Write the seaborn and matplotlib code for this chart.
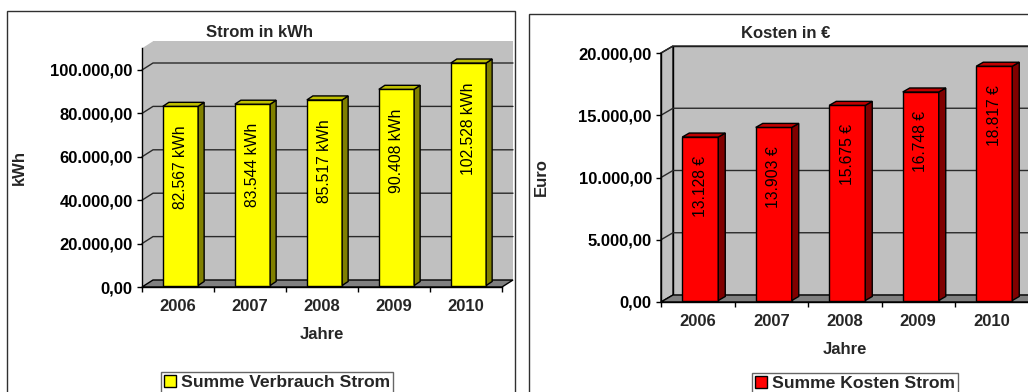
import matplotlib
matplotlib.use("Agg")
import matplotlib.pyplot as plt
import matplotlib.ticker as mticker
from matplotlib.patches import Polygon, Rectangle, Patch
from matplotlib.lines import Line2D
from matplotlib.transforms import Affine2D, IdentityTransform
import pandas as pd
import seaborn as sns

# --- data -------------------------------------------------------------
years = ["2006", "2007", "2008", "2009", "2010"]
strom_kwh = [82567, 83544, 85517, 90408, 102528]
kosten_eur = [13128, 13903, 15675, 16748, 18817]

W, H, DPI = 1028, 392, 100

sns.set_style("white")
plt.rcParams["font.family"] = ["Liberation Sans", "DejaVu Sans"]

fig = plt.figure(figsize=(W / DPI, H / DPI), dpi=DPI)
fig.patch.set_facecolor("white")

FS = 12
LEG_FS = 12.6


def de_num(v, decimals=2):
    s = f"{v:,.{decimals}f}"
    return s.replace(",", "X").replace(".", ",").replace("X", ".")


def px_axes(x0, x1, y_top, y_bottom):
    return fig.add_axes([x0 / W, 1 - y_bottom / H, (x1 - x0) / W, (y_bottom - y_top) / H])


def panel(ax, values, ymax, ystep, face, side, top, unit, ylabel, title,
          legend_label, wall_off, bar_off, wall_edge, title_pos, ylabel_pos,
          legend_pos):
    df = pd.DataFrame({"Jahr": years, "Wert": values})
    sns.barplot(data=df, x="Jahr", y="Wert", color=face, saturation=1,
                width=0.49, edgecolor="black", linewidth=1, errorbar=None,
                ax=ax, zorder=3)
    bars = list(ax.patches)
    n = len(years)
    x0, x1 = -0.5, n - 0.5
    ax.set_xlim(x0, x1)
    ax.set_ylim(0, ymax)
    ax.set_facecolor("none")

    wdx, wdy = wall_off
    bdx, bdy = bar_off
    sx, sy = (wdx - bdx) / 2, (wdy - bdy) / 2

    def pt(x, y, dx=0.0, dy=0.0):
        X, Y = ax.transData.transform((x, y))
        return (X + dx, Y + dy)

    def poly(pts, **kw):
        p = Polygon(pts, closed=True, transform=IdentityTransform(),
                    clip_on=False, **kw)
        ax.add_artist(p)
        return p

    # back wall and side wall
    poly([pt(x0, 0, wdx, wdy), pt(x1, 0, wdx, wdy), pt(x1, ymax, wdx, wdy),
          pt(x0, ymax, wdx, wdy)], facecolor="#C0C0C0",
         edgecolor=wall_edge, lw=1, zorder=0)
    poly([pt(x0, 0), pt(x0, ymax), pt(x0, ymax, wdx, wdy), pt(x0, 0, wdx, wdy)],
         facecolor="#C0C0C0", edgecolor=wall_edge, lw=1, zorder=0.1)

    # gridlines on walls
    ticks = list(range(0, int(ymax) + 1, ystep))
    for v in ticks[1:]:
        a, b, c = pt(x0, v), pt(x0, v, wdx, wdy), pt(x1, v, wdx, wdy)
        ln = Line2D([a[0], b[0], c[0]], [a[1], b[1], c[1]], color="#2a2a2a",
                    lw=1, transform=IdentityTransform(), clip_on=False,
                    zorder=0.5)
        ax.add_artist(ln)

    # floor
    poly([pt(x0, 0), pt(x1, 0), pt(x1, 0, wdx, wdy), pt(x0, 0, wdx, wdy)],
         facecolor="#808080", edgecolor="black", lw=1, zorder=0.7)

    # bars with side and top faces, plus value labels
    for bar, v in zip(bars, values):
        bar.set_transform(ax.transData + Affine2D().translate(sx, sy))
        bar.set_clip_on(False)
        xa = bar.get_x()
        xb = xa + bar.get_width()
        h = bar.get_height()
        poly([pt(xb, 0, sx, sy), pt(xb, h, sx, sy),
              pt(xb, h, sx + bdx, sy + bdy), pt(xb, 0, sx + bdx, sy + bdy)],
             facecolor=side, edgecolor="black", lw=1, zorder=3.1)
        poly([pt(xa, h, sx, sy), pt(xb, h, sx, sy),
              pt(xb, h, sx + bdx, sy + bdy), pt(xa, h, sx + bdx, sy + bdy)],
             facecolor=top, edgecolor="black", lw=1, zorder=3.1)
        ax.annotate(f"{de_num(v, 0)} {unit}", xy=((xa + xb) / 2, h),
                    xytext=(sx, sy - 19), textcoords="offset pixels",
                    rotation=90, ha="center", va="top", fontsize=11.3,
                    color="black", zorder=4)

    # axes lines and ticks
    for s in ("top", "right"):
        ax.spines[s].set_visible(False)
    for s in ("left", "bottom"):
        ax.spines[s].set_color("black")
        ax.spines[s].set_linewidth(1)
        ax.spines[s].set_zorder(2)

    ax.set_yticks(ticks)
    ax.yaxis.set_major_formatter(mticker.FuncFormatter(lambda v, p: de_num(v)))
    ax.tick_params(axis="y", direction="out", length=3.6, width=1, pad=3,
                   labelsize=FS, colors="black", left=True)
    for t in ax.get_yticklabels():
        t.set_fontweight("bold")

    ax.set_xticks(range(n))
    ax.set_xticklabels(years, fontweight="bold", fontsize=FS)
    ax.set_xticks([i - 0.5 for i in range(n + 1)], minor=True)
    ax.tick_params(axis="x", which="major", length=0, pad=8.5)
    ax.tick_params(axis="x", which="minor", direction="out", length=3.6,
                   width=1, bottom=True, color="black")

    ax.set_xlabel("Jahre", fontweight="bold", fontsize=FS, labelpad=9.5)
    ax.set_ylabel(ylabel, fontweight="bold", fontsize=FS)
    ax.yaxis.set_label_coords(*ylabel_pos)

    ax.text(title_pos[0], title_pos[1], title, transform=ax.transAxes,
            ha="center", va="center", fontweight="bold", fontsize=FS)

    leg = ax.legend(handles=[Patch(facecolor=face, edgecolor="black",
                                   label=legend_label)],
                    loc="upper left",
                    bbox_to_anchor=(legend_pos[0] / W, 1 - legend_pos[1] / H),
                    bbox_transform=fig.transFigure, frameon=True,
                    fancybox=False, borderpad=0.15, handlelength=0.7,
                    handleheight=0.7, handletextpad=0.3, borderaxespad=0,
                    prop={"weight": "bold", "size": LEG_FS})
    leg.get_frame().set_edgecolor("#404040")
    leg.get_frame().set_linewidth(1)


# panel frames
fig.add_artist(Rectangle((7 / W, -0.1), (515 - 7) / W, 1.1 - 11 / H,
                         transform=fig.transFigure, fill=False,
                         edgecolor="#303030", lw=1))
fig.add_artist(Rectangle((529 / W, -0.1), 0.6, 1.1 - 14 / H,
                         transform=fig.transFigure, fill=False,
                         edgecolor="#303030", lw=1))

# left: electricity consumption
ax1 = px_axes(142, 502, 287 - 110000 * 217 / 100000, 287)
panel(ax1, strom_kwh, 110000, 20000, "#FFFF00", "#808000", "#C0C000", "kWh",
      "kWh", "Strom in kWh", "Summe Verbrauch Strom", (11, 7), (6, 4), "none",
      ((260 - 142) / 360, 1 + 16 / 238.7), ((27 - 142) / 360, 0.5), (161, 372))

# right: electricity costs
ax2 = px_axes(661, 661 + 5 * 73.5, 53, 302)
panel(ax2, kosten_eur, 20000, 5000, "#FF0000", "#800000", "#C00000", "€",
      "Euro", "Kosten in €", "Summe Kosten Strom", (12, 7), (7, 4), "black",
      ((786 - 661) / 367.5, 1 + 19 / 249), ((549 - 661) / 367.5, 0.5), (752, 373))

fig.savefig("out.png", dpi=DPI, facecolor="white")
